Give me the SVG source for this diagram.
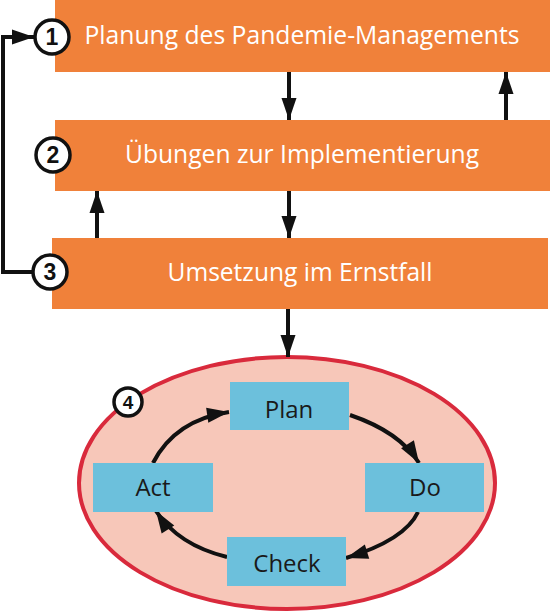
<svg xmlns="http://www.w3.org/2000/svg" width="550" height="614" viewBox="0 0 550 614">
<style>
.ob{fill:#f0813a}
.bb{fill:#6cc0dc}
.wt{font-family:"Open Sans","Liberation Sans",sans-serif;font-size:25px;fill:#fff;text-anchor:middle}
.dt{font-family:"Open Sans","Liberation Sans",sans-serif;font-size:24px;fill:#1a1a1a;text-anchor:middle}
.num{fill:#fff;stroke:#111;stroke-width:3.5}
.nt{font-family:"Liberation Sans","Open Sans",sans-serif;font-size:23px;font-weight:bold;fill:#111;text-anchor:middle}
.ln{fill:none;stroke:#111;stroke-width:4}
</style>
<defs>
<marker id="ah" markerUnits="userSpaceOnUse" markerWidth="24" markerHeight="16" refX="22" refY="7.5" orient="auto" overflow="visible">
<path d="M0,0 L22,7.5 L0,15 Z" fill="#111"/>
</marker>
</defs>
<g id="node1">
<rect class="ob" x="55" y="0" width="495" height="72"/>
<text class="wt" x="302" y="44" textLength="435" lengthAdjust="spacingAndGlyphs">Planung des Pandemie-Managements</text>
</g>
<g id="node2">
<rect class="ob" x="55" y="120" width="495" height="71"/>
<text class="wt" x="302" y="163" textLength="354" lengthAdjust="spacingAndGlyphs">Übungen zur Implementierung</text>
</g>
<g id="node3">
<rect class="ob" x="52" y="238" width="496" height="71"/>
<text class="wt" x="300" y="281" textLength="265" lengthAdjust="spacingAndGlyphs">Umsetzung im Ernstfall</text>
</g>
<g id="node4">
<ellipse cx="287" cy="483" rx="208" ry="126" fill="#f7c7b9" stroke="#d92a3c" stroke-width="4"/>
</g>
<g id="connectors">
<path class="ln" d="M289,72 V120" marker-end="url(#ah)"/>
<path class="ln" d="M506,120 V72" marker-end="url(#ah)"/>
<path class="ln" d="M289,191 V238" marker-end="url(#ah)"/>
<path class="ln" d="M97,238 V191" marker-end="url(#ah)"/>
<path class="ln" d="M288,309 V357" marker-end="url(#ah)"/>
<path class="ln" d="M35,272 H3 V37 H34" marker-end="url(#ah)"/>
<path class="ln" d="M153,463 Q175,420 229,412" marker-end="url(#ah)"/>
<path class="ln" d="M350,415 Q400,432 419,463" marker-end="url(#ah)"/>
<path class="ln" d="M418,512 Q405,540 346,558" marker-end="url(#ah)"/>
<path class="ln" d="M227,557 Q178,545 156,511" marker-end="url(#ah)"/>
</g>
<g id="badge1"><circle class="num" cx="52" cy="37" r="17"/><text class="nt" x="52" y="45">1</text></g>
<g id="badge2"><circle class="num" cx="53" cy="155" r="17"/><text class="nt" x="53" y="163">2</text></g>
<g id="badge3"><circle class="num" cx="50" cy="272" r="17"/><text class="nt" x="50" y="280">3</text></g>
<g id="badge4"><circle class="num" cx="128" cy="402" r="14"/><text class="nt" x="128" y="409" style="font-size:19px">4</text></g>
<g id="plan">
<rect class="bb" x="230" y="382" width="119" height="48"/>
<text class="dt" x="289" y="418">Plan</text>
</g>
<g id="do">
<rect class="bb" x="365" y="463" width="119" height="49"/>
<text class="dt" x="425" y="496">Do</text>
</g>
<g id="check">
<rect class="bb" x="227" y="537" width="119" height="49"/>
<text class="dt" x="287" y="572">Check</text>
</g>
<g id="act">
<rect class="bb" x="93" y="463" width="120" height="49"/>
<text class="dt" x="153" y="496">Act</text>
</g>
</svg>
